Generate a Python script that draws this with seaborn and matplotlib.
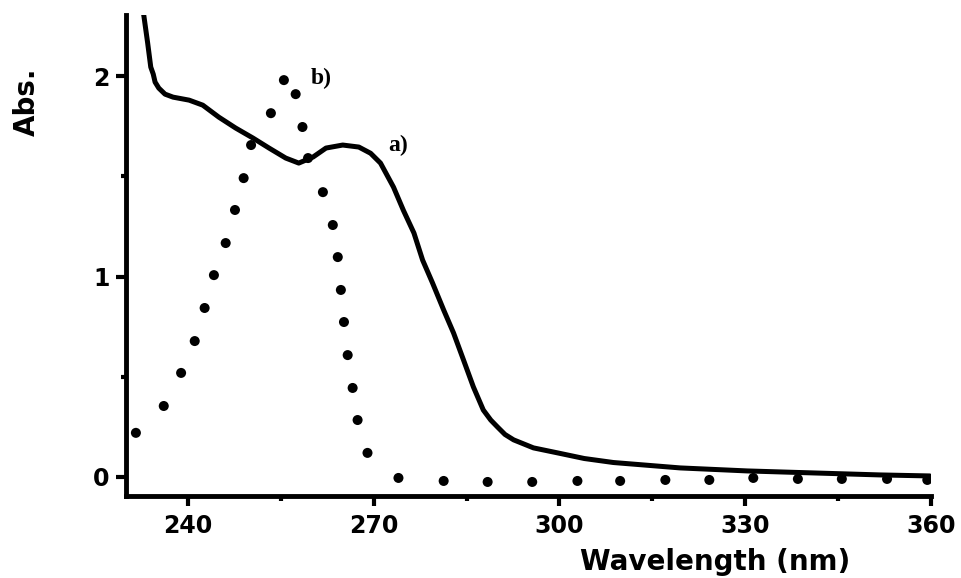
import numpy as np
import pandas as pd
import matplotlib
matplotlib.use("Agg")
import matplotlib.pyplot as plt
import seaborn as sns
from matplotlib import font_manager
from matplotlib.ticker import MultipleLocator, FixedLocator

# ---- data ----
wl_a = [232.8, 233.5, 234.0, 234.4, 234.7, 235.3, 236.3, 237.6, 240.2, 242.4,
        245.0, 247.7, 250.5, 253.1, 255.8, 257.9, 260.2, 262.3, 265.0, 267.6,
        269.5, 271.1, 273.2, 274.8, 276.5, 277.9, 279.5, 281.3, 282.9, 284.5,
        286.1, 287.7, 288.9, 290.0, 291.2, 292.6, 295.8, 299.7, 304.0, 308.7,
        319.5, 330.3, 341.0, 351.8, 359.8]
abs_a = [2.32, 2.165, 2.045, 2.01, 1.97, 1.94, 1.91, 1.895, 1.88, 1.855,
         1.795, 1.741, 1.691, 1.641, 1.591, 1.566, 1.596, 1.641, 1.656, 1.646,
         1.615, 1.566, 1.446, 1.33, 1.217, 1.082, 0.968, 0.833, 0.718, 0.584,
         0.449, 0.334, 0.284, 0.249, 0.212, 0.185, 0.145, 0.12, 0.092, 0.072,
         0.045, 0.03, 0.02, 0.01, 0.005]

wl_b = [231.6, 236.1, 238.9, 241.1, 242.7, 244.2, 246.1, 247.6, 249.0, 250.2,
        253.4, 255.5, 257.4, 258.5, 259.4, 261.8, 263.4, 264.2, 264.7, 265.2,
        265.8, 266.6, 267.4, 269.0, 274.0, 281.3, 288.4, 295.6, 302.9, 309.8,
        317.1, 324.2, 331.3, 338.5, 345.6, 352.9, 359.4]
abs_b = [0.22, 0.354, 0.519, 0.678, 0.843, 1.007, 1.167, 1.332, 1.491, 1.656,
         1.815, 1.98, 1.91, 1.746, 1.591, 1.421, 1.257, 1.097, 0.933, 0.773,
         0.608, 0.444, 0.284, 0.12, -0.005, -0.02, -0.025, -0.025, -0.02, -0.02,
         -0.015, -0.015, -0.005, -0.01, -0.01, -0.01, -0.015]

x_ticks = [240, 270, 300, 330, 360]
y_ticks = [0, 1, 2]
x_label = "Wavelength (nm)"
y_label = "Abs."
label_a = "a)"
label_b = "b)"

# ---- style ----
sns.set_style("ticks")
plt.rcParams["font.family"] = ["DejaVu Sans"]
plt.rcParams["font.weight"] = "bold"
plt.rcParams["text.color"] = "black"
plt.rcParams["axes.labelcolor"] = "black"

names = {f.name for f in font_manager.fontManager.ttflist}
serif = "Liberation Serif" if "Liberation Serif" in names else "DejaVu Serif"

fig = plt.figure(figsize=(9.61, 5.78), dpi=100)
ax = fig.add_axes([0.1311, 0.1419, 0.8377, 0.8322])

df_a = pd.DataFrame({"wl": wl_a, "abs": abs_a})
df_b = pd.DataFrame({"wl": wl_b, "abs": abs_b})

sns.lineplot(data=df_a, x="wl", y="abs", ax=ax, color="black", linewidth=3.6,
             sort=False, estimator=None, solid_capstyle="round",
             solid_joinstyle="round")
sns.scatterplot(data=df_b, x="wl", y="abs", ax=ax, color="black", s=52,
                edgecolor="none", marker="o")

ax.set_xlim(230, 360)
ax.set_ylim(-0.095, 2.305)
ax.xaxis.set_major_locator(FixedLocator(x_ticks))
ax.xaxis.set_minor_locator(MultipleLocator(15))
ax.yaxis.set_major_locator(FixedLocator(y_ticks))
ax.yaxis.set_minor_locator(MultipleLocator(0.5))

for side in ["top", "right"]:
    ax.spines[side].set_visible(False)
for side in ["left", "bottom"]:
    ax.spines[side].set_linewidth(3.5)
    ax.spines[side].set_color("black")

ax.tick_params(which="major", direction="out", length=7, width=3, labelsize=17,
               colors="black")
ax.tick_params(axis="x", which="major", pad=6)
ax.tick_params(axis="y", which="major", pad=5)
ax.tick_params(which="minor", direction="out", length=3.5, width=3, colors="black")
for t in ax.get_xticklabels() + ax.get_yticklabels():
    t.set_fontweight("bold")

ax.set_xlabel(x_label, fontsize=20, fontweight="bold", color="black")
ax.xaxis.set_label_coords(0.732, -0.137)
ax.xaxis.label.set_va("center")
ax.set_ylabel(y_label, fontsize=20, fontweight="bold", color="black")
ax.yaxis.set_label_coords(-0.123, 0.82)
ax.yaxis.label.set_va("center")

ax.text(273.9, 1.656, label_a, fontsize=17, fontweight="bold", family=[serif],
        ha="center", va="center", color="black")
ax.text(261.5, 1.99, label_b, fontsize=17, fontweight="bold", family=[serif],
        ha="center", va="center", color="black")

ax.set_facecolor("white")
fig.patch.set_facecolor("white")
fig.savefig("out.png", dpi=100)
